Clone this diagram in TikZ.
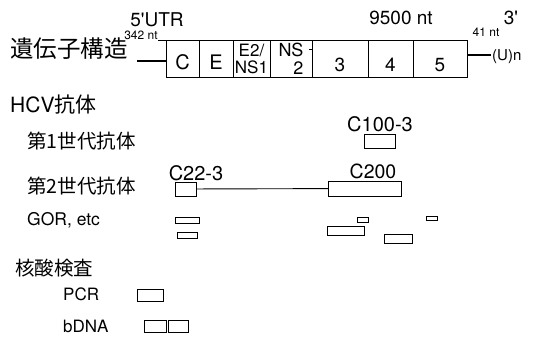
\documentclass[tikz,border=0pt]{standalone}
\usepackage{fontspec}
\setsansfont{TeX Gyre Heros}
\newfontfamily\jpfont{Noto Sans CJK JP}
\usetikzlibrary{positioning}

\newcommand{\fsz}[1]{\fontsize{#1}{#1}\selectfont}

\begin{document}
\begin{tikzpicture}[x=1pt, y=-1pt,
    gene/.style={draw, line width=0.9pt, minimum height=37pt, inner sep=0pt, outer sep=0pt, font=\sffamily\fsz{20}},
    probe/.style={draw, line width=0.9pt, inner sep=0pt, outer sep=0pt},
    head/.style={anchor=west, inner sep=0pt, font=\jpfont\fsz{21}},
    sub/.style={anchor=west, inner sep=0pt, font=\jpfont\fsz{19.5}},
    txt/.style={inner sep=0pt, font=\sffamily\fsz{#1}}, txt/.default=19]
    \useasboundingbox (0,0) rectangle (533,342);

    % gene structure
    \node[gene, minimum width=33pt, text height=21.4pt, text depth=0pt] (c) at (182.5,58.5) {C};
    \node[gene, minimum width=34pt, text height=21.4pt, text depth=0pt, right=0pt of c] (e) {E};
    \node[gene, minimum width=37pt, align=center, font=\sffamily\fsz{17}, right=0pt of e] (e2) {E2/\\NS1};
    \node[gene, minimum width=42pt, align=right, font=\sffamily\fsz{18}, right=0pt of e2] (ns2) {NS\\2};
    \node[gene, minimum width=56pt, text height=26.5pt, text depth=0pt, font=\sffamily\fsz{19}, right=0pt of ns2] (ns3) {3};
    \node[gene, minimum width=45pt, text height=26.5pt, text depth=0pt, font=\sffamily\fsz{19}, right=0pt of ns3] (ns4) {4};
    \node[gene, minimum width=54pt, text height=26.5pt, text depth=0pt, font=\sffamily\fsz{19}, right=0pt of ns4] (ns5) {5};
    \draw[line width=0.8pt] ([yshift=-9pt]ns2.north east) -- ++(-3,0);

    \coordinate (utr5) at (137,61);
    \coordinate (nt5) at (158,40);
    \coordinate (utr3) at (491,55);
    \draw[line width=2.6pt] (utr5) -- (utr5 -| c.west);
    \draw[line width=0.9pt] (nt5) -- (c.north west);
    \draw[line width=1.6pt] (utr3 -| ns5.east) -- (utr3);

    \node[txt] (utr) at (157,20) {5\textquotesingle UTR};
    \node[txt] (len) at (401,18) {9500 nt};
    \node[txt] (end3) at (511,18) {3\textquotesingle};
    \node[txt=12] (nt342) at (141,35.5) {342 nt};
    \node[txt=12] (nt41) at (486,32) {41 nt};
    \node[txt=15, anchor=west] (polyu) at (492,57) {(U)n};
    \node[head, font=\jpfont\fsz{23.5}] (struct) at (10,49) {遺伝子構造};

    % antibodies
    \node[head] (hcv) at (10,105) {{\sffamily HCV}抗体};
    \node[sub] (gen1) at (27,141.5) {第1世代抗体};
    \node[sub] (gen2) at (27,186.5) {第2世代抗体};
    \node[txt=17.5, anchor=west] (gor) at (27,220) {GOR, etc};

    \node[probe, minimum width=31pt, minimum height=14pt] (c100) at (379.5,141) {};
    \node[txt=20] (c100lbl) at (380,124) {C100-3};
    \node[probe, minimum width=21pt, minimum height=14pt] (c22) at (185.5,189) {};
    \node[txt=20] (c22lbl) at (196,173.5) {C22-3};
    \node[probe, minimum width=73pt, minimum height=15pt] (c200) at (364.5,188.5) {};
    \node[txt=19.5] (c200lbl) at (373,171.5) {C200};
    \draw[line width=0.9pt] (c22) -- (c200);

    \foreach \x/\y/\w/\h [count=\i] in {187/220/24/6, 187/235/20/6, 362.5/219.5/11/5,
        345.5/230.5/37/9, 398/238.5/28/9, 431.5/218/11/4}
      \node[probe, minimum width=\w pt, minimum height=\h pt] (gor\i) at (\x,\y) {};

    % nucleic acid tests
    \node[head, font=\jpfont\fsz{19.5}] (nat) at (15,268.5) {核酸検査};
    \node[txt=17, anchor=west] (pcr) at (63,294) {PCR};
    \node[txt=17, anchor=west] (bdna) at (63,326) {bDNA};
    \node[probe, minimum width=26pt, minimum height=12pt] (pcrbox) at (150,295) {};
    \node[probe, minimum width=22pt, minimum height=12pt] (bdna1) at (155,326) {};
    \node[probe, minimum width=20pt, minimum height=12pt] (bdna2) at (178,326) {};
  \end{tikzpicture}
\end{document}
